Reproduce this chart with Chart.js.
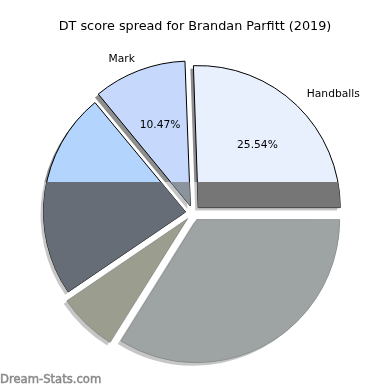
<!DOCTYPE html>
<html>
<head>
<meta charset="utf-8">
<script src="https://cdn.jsdelivr.net/npm/chart.js"></script>
<style>
    html, body { margin: 0; padding: 0; background: #fff; }
    #wrap { width: 390px; height: 390px; }
</style>
</head>
<body>
<div id="wrap"><canvas id="pie-chart" width="390" height="390"></canvas></div>
<script>
const chartTitle = 'DT score spread for Brandan Parfitt (2019)';
const watermark = 'Dream-Stats.com';

// Slices in the original order (counter-clockwise from 3 o'clock).
// Only two of them carry a label in the picture.
const sliceLabels = ['Handballs', 'Mark', '', '', ''];
const sliceShares = [25.54, 10.47, 23.5, 6.6, 33.89];

// Colours: top part of each wedge, and the greyed part below the band line
const upperColors = ['#e8f0fe', '#c6d9fd', '#b3d5fd', '#9b9e8f', '#9ea4a3'];
const lowerColors = ['#767676', '#8b939c', '#676d76', '#9b9e8f', '#9ea4a3'];
const shadeTop = 182;

// Chart.js goes clockwise, so feed the slices in reverse
const n = sliceShares.length;
const rev = arr => [...arr].reverse();

function arcGeom(arc) {
    // same maths as ArcElement.draw so the extra passes line up
    const off = (arc.options.offset || 0) / 4;
    const mid = (arc.startAngle + arc.endAngle) / 2;
    const fix = 1 - Math.sin(Math.min(Math.PI, arc.circumference || 0));
    return {
        dx: Math.cos(mid) * off,
        dy: Math.sin(mid) * off,
        r: arc.outerRadius + off * fix,
        mid: mid
    };
}

function wedgePath(ctx, arc, g, sx, sy) {
    ctx.beginPath();
    ctx.moveTo(arc.x + g.dx + sx, arc.y + g.dy + sy);
    ctx.arc(arc.x + g.dx + sx, arc.y + g.dy + sy, g.r, arc.startAngle, arc.endAngle);
    ctx.closePath();
}

const sliceDecor = {
    id: 'sliceDecor',
    beforeDatasetsDraw(chart) {
        // drop shadows, all under the wedges; paler in the lower band
        const ctx = chart.ctx;
        const grad = ctx.createLinearGradient(0, 0, 0, chart.height);
        const stop = shadeTop / chart.height;
        grad.addColorStop(0, '#8e8e8e');
        grad.addColorStop(stop, '#8e8e8e');
        grad.addColorStop(stop, '#c6c6c6');
        grad.addColorStop(1, '#c6c6c6');
        ctx.save();
        ctx.fillStyle = grad;
        chart.getDatasetMeta(0).data.forEach(arc => {
            wedgePath(ctx, arc, arcGeom(arc), -3, 3);
            ctx.fill();
        });
        ctx.restore();
    },
    afterDatasetsDraw(chart) {
        const ctx = chart.ctx;
        const arcs = chart.getDatasetMeta(0).data;

        // grey band over the lower half of the wedges
        ctx.save();
        ctx.beginPath();
        ctx.rect(0, shadeTop, chart.width, chart.height - shadeTop);
        ctx.clip();
        arcs.forEach((arc, i) => {
            const k = n - 1 - i;
            wedgePath(ctx, arc, arcGeom(arc), 0, 0);
            ctx.fillStyle = lowerColors[k];
            ctx.fill();
            ctx.lineWidth = 1;
            ctx.strokeStyle = 'rgba(95, 100, 100, 0.35)';
            ctx.stroke();
        });
        ctx.restore();

        // wedge labels and percentages
        ctx.save();
        ctx.fillStyle = '#000';
        ctx.font = '10.7px "DejaVu Sans"';
        ctx.textBaseline = 'middle';
        arcs.forEach((arc, i) => {
            const k = n - 1 - i;
            if (!sliceLabels[k]) return;
            const g = arcGeom(arc);
            const cx = arc.x + g.dx;
            const cy = arc.y + g.dy;
            const r = arc.outerRadius;
            const c = Math.cos(g.mid), s = Math.sin(g.mid);
            ctx.textAlign = c >= 0 ? 'left' : 'right';
            ctx.fillText(sliceLabels[k], cx + c * r * 1.1, cy + s * r * 1.1 - 1);
            ctx.textAlign = 'center';
            const pct = sliceShares[k].toFixed(2) + '%';
            ctx.fillText(pct, cx + c * r * 0.6, cy + s * r * 0.6 - 1);
        });

        // title
        ctx.font = '12.8px "DejaVu Sans"';
        ctx.textAlign = 'center';
        ctx.textBaseline = 'alphabetic';
        ctx.fillText(chartTitle, 195, 30);

        // watermark
        ctx.font = '11.6px "DejaVu Sans"';
        ctx.fillStyle = '#8a8a8a';
        ctx.strokeStyle = '#8a8a8a';
        ctx.lineWidth = 0.5;
        ctx.textAlign = 'left';
        ctx.fillText(watermark, 0, 383);
        ctx.strokeText(watermark, 0, 383);
        ctx.restore();
    }
};

new Chart(document.getElementById('pie-chart'), {
    type: 'pie',
    data: {
        labels: rev(sliceLabels),
        datasets: [{
            data: rev(sliceShares),
            backgroundColor: rev(upperColors),
            borderColor: ['rgba(0,0,0,0)', 'rgba(0,0,0,0)', '#000', '#000', '#000'],
            borderWidth: 1,
            offset: 30,
            hoverOffset: 30
        }]
    },
    options: {
        responsive: false,
        animation: false,
        events: [],
        rotation: 90,
        radius: 142,
        layout: { padding: { left: 40, right: 44, top: 76, bottom: 40 } },
        plugins: {
            legend: { display: false },
            tooltip: { enabled: false },
            title: { display: false }
        }
    },
    plugins: [sliceDecor]
});
</script>
</body>
</html>
